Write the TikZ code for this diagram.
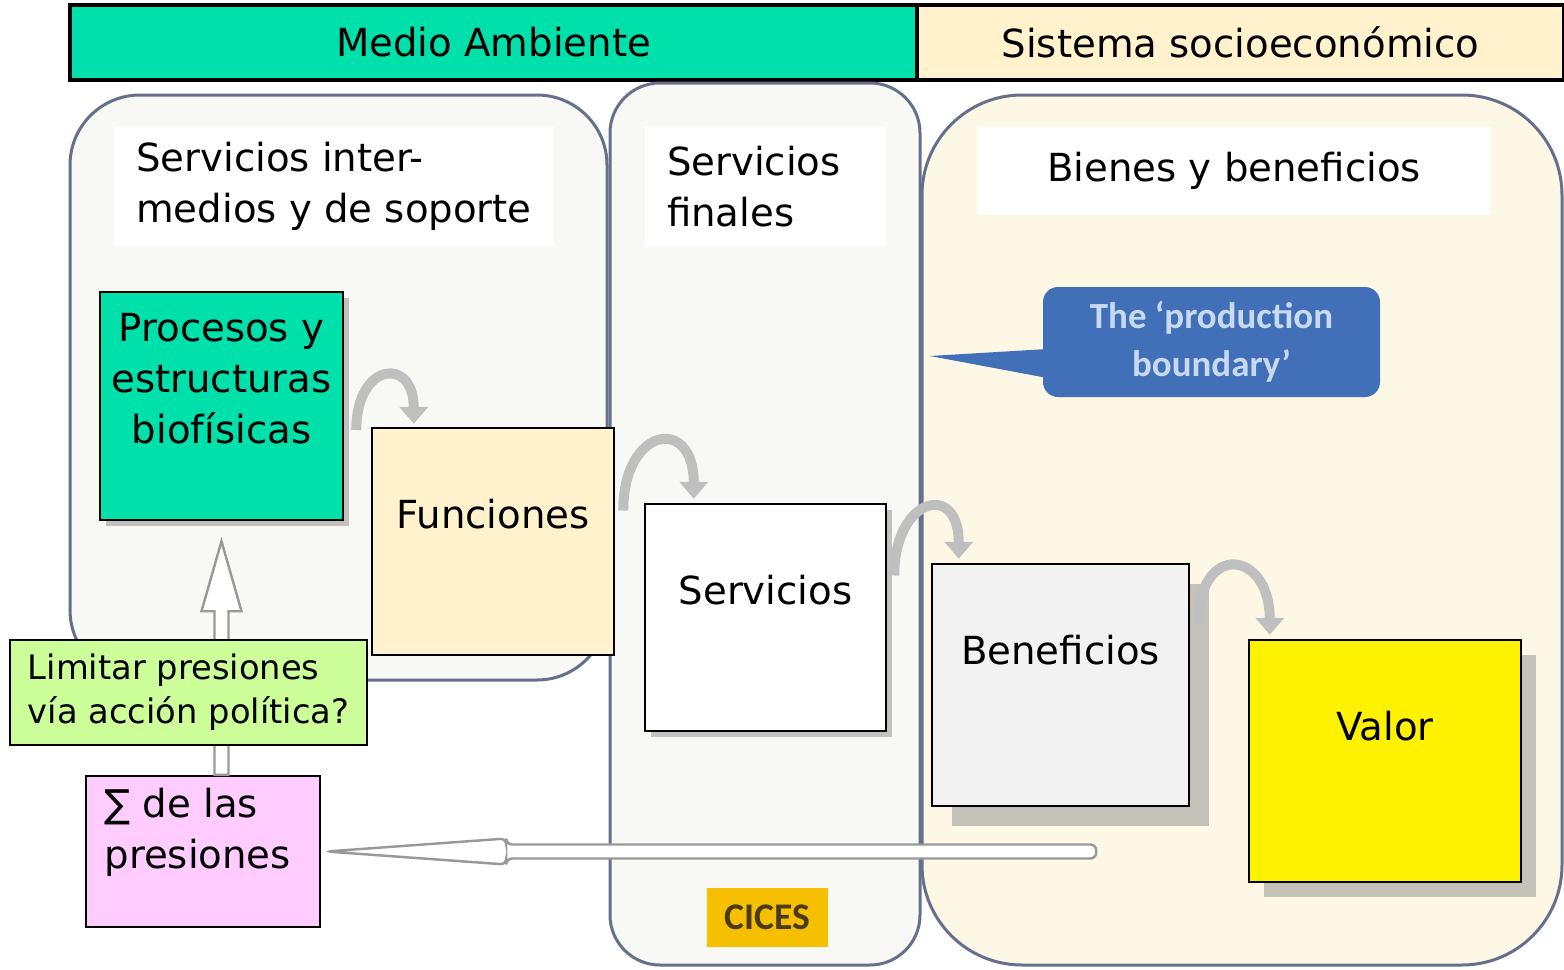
\documentclass[tikz,border=0pt]{standalone}
\usepackage{fontspec}
\setmainfont{DejaVu Sans}
\newfontfamily\calloutfont{Carlito}
\usetikzlibrary{calc,positioning,shadows,arrows.meta}

\definecolor{medioGreen}{RGB}{0,224,170}
\definecolor{socioCream}{RGB}{255,242,204}
\definecolor{panelLine}{RGB}{102,112,140}
\definecolor{panelGray}{RGB}{248,248,245}
\definecolor{panelCream}{RGB}{253,248,230}
\definecolor{limitGreen}{RGB}{204,255,153}
\definecolor{sumPink}{RGB}{255,204,255}
\definecolor{benGray}{RGB}{242,242,242}
\definecolor{calloutBlue}{RGB}{66,112,184}
\definecolor{calloutText}{RGB}{200,218,240}
\definecolor{cicesOrange}{RGB}{246,192,0}
\definecolor{cicesText}{RGB}{75,58,18}

\begin{document}
\begin{tikzpicture}[font=\fontsize{11}{14.5}\selectfont]
    % Styles
    \tikzset{
        header/.style={draw=black, line width=0.9pt, outer sep=0pt, inner sep=0pt},
        panel/.style={draw=panelLine, line width=0.03cm, rounded corners=#1},
        lblbox/.style={fill=white, inner xsep=0.22cm, inner ysep=0pt, align=flush left},
        box/.style={draw=black, line width=0.7pt, inner sep=0pt},
        shadowed/.style={drop shadow={shadow xshift=#1, shadow yshift=-#1, fill=black!45, opacity=0.5}},
        curvarrow/.style={line width=0.1cm, draw=gray!50, -{Triangle[width=0.28cm, length=0.17cm]}, looseness=3},
        hollowarrow/.style={draw=gray!80, line width=0.7pt, fill=white}
    }

    \useasboundingbox (0,0) rectangle (15.64,-9.70);

    % Header bar
    \node[header, fill=medioGreen, minimum width=8.47cm, minimum height=0.75cm] (medio) at (4.935,-0.425) {Medio Ambiente};
    \node[header, fill=socioCream, minimum width=6.47cm, minimum height=0.75cm, right=0cm of medio] (socio) {Sistema socioeconómico};

    % Panels
    \draw[panel=1cm, fill=panelCream] (9.22,-0.95) rectangle (15.62,-9.65);
    \draw[panel=0.5cm, fill=panelGray] (6.10,-0.83) rectangle (9.20,-9.65);
    \draw[panel=0.7cm, fill=panelGray] (0.70,-0.95) rectangle (6.07,-6.80);

    % Panel titles
    \node[lblbox, minimum width=4.38cm, minimum height=1.19cm, align=left] (intlbl) at (3.34,-1.865) {Servicios inter-\\medios y de soporte};
    \node[lblbox, minimum width=2.41cm, minimum height=1.19cm, text width=1.97cm] (finlbl) at (7.655,-1.865) {Servicios\\finales};
    \node[lblbox, minimum width=5.14cm, minimum height=0.88cm, align=center] (bienlbl) at (12.34,-1.71) {Bienes y beneficios};

    % Callout
    \node[fill=calloutBlue, rounded corners=0.15cm, minimum width=3.37cm, minimum height=1.10cm, align=center,
          text=calloutText, font=\calloutfont\bfseries\fontsize{10.5}{13.5}\selectfont] (prodb) at (12.115,-3.42) {The ‘production\\boundary’};
    \coordinate (ptip) at (9.30,-3.56);
    \fill[calloutBlue] ($(prodb.west)+(0.05,-0.07)$) -- (ptip) -- ($(prodb.west)+(0.05,-0.36)$) -- cycle;

    % CICES tag
    \node[fill=cicesOrange, minimum width=1.21cm, minimum height=0.59cm, text=cicesText,
          font=\calloutfont\bfseries\fontsize{10.7}{12}\selectfont] (cices) at (7.675,-9.175) {CICES};

    % Boxes
    \node[box, shadowed=0.06cm, fill=medioGreen, minimum width=2.43cm, minimum height=2.28cm] (proc) at (2.215,-4.06) {};
    \node[align=center] (proctxt) at ([yshift=-0.88cm]proc.north) {Procesos y\\estructuras\\biofísicas};
    \node[box, fill=socioCream, minimum width=2.42cm, minimum height=2.27cm] (func) at (4.93,-5.415) {};
    \node (functxt) at ([yshift=-0.87cm]func.north) {Funciones};
    \node[box, shadowed=0.06cm, fill=white, minimum width=2.41cm, minimum height=2.27cm] (serv) at (7.655,-6.175) {};
    \node (servtxt) at ([yshift=-0.87cm]serv.north) {Servicios};
    \node[box, shadowed=0.2cm, fill=benGray, minimum width=2.57cm, minimum height=2.42cm] (ben) at (10.605,-6.85) {};
    \node (bentxt) at ([yshift=-0.87cm]ben.north) {Beneficios};
    \node[box, shadowed=0.15cm, fill=yellow, minimum width=2.72cm, minimum height=2.42cm] (valor) at (13.85,-7.61) {};
    \node (valortxt) at ([yshift=-0.87cm]valor.north) {Valor};

    % Curved arrows between boxes
    \draw[curvarrow] ([shift={(0.12,-0.24)}]proc.east) to[out=90, in=90] ([shift={(0.43,0.03)}]func.north west);
    \draw[curvarrow] ([shift={(0.08,0.31)}]func.east) to[out=90, in=90] ([shift={(0.50,0.04)}]serv.north west);
    \draw[curvarrow] ([shift={(0.07,0.42)}]serv.east) to[out=90, in=90] ([shift={(0.28,0.04)}]ben.north west);
    \draw[curvarrow] ([shift={(0.08,0.60)}]ben.east) to[out=90, in=90] ([shift={(0.22,0.04)}]valor.north west);

    % Sum of pressures box
    \node[box, fill=sumPink, minimum width=2.34cm, minimum height=1.51cm] (sig) at (2.03,-8.515) {};
    \node[anchor=north west, align=left, inner sep=0pt] (sigtxt) at ([shift={(0.19,-0.13)}]sig.north west) {∑ de las\\presiones};

    % Upward block arrow
    \draw[hollowarrow] ($(sig.north -| proc.south)+(-0.07,0)$) -- ($(proc.south)+(-0.07,-0.9)$)
        -- ($(proc.south)+(-0.2,-0.9)$) -- ($(proc.south)+(0,-0.2)$) -- ($(proc.south)+(0.2,-0.9)$)
        -- ($(proc.south)+(0.07,-0.9)$) -- ($(sig.north -| proc.south)+(0.07,0)$) -- cycle;

    % Policy box
    \node[box, fill=limitGreen, minimum width=3.57cm, minimum height=1.05cm, align=left,
          font=\fontsize{9.6}{12.5}\selectfont] (limit) at (1.885,-6.925) {Limitar presiones\\vía acción política?};

    % Pressures back to the sum box
    \draw[hollowarrow, rounded corners=0.06cm] ($(sig.east)+(0.05,0)$) -- ($(sig.east)+(1.85,0.13)$) -- ($(sig.east)+(1.85,0.07)$)
        -- ($(sig.east)+(7.75,0.07)$) -- ($(sig.east)+(7.75,-0.07)$) -- ($(sig.east)+(1.85,-0.07)$)
        -- ($(sig.east)+(1.85,-0.13)$) -- cycle;
\end{tikzpicture}
\end{document}
